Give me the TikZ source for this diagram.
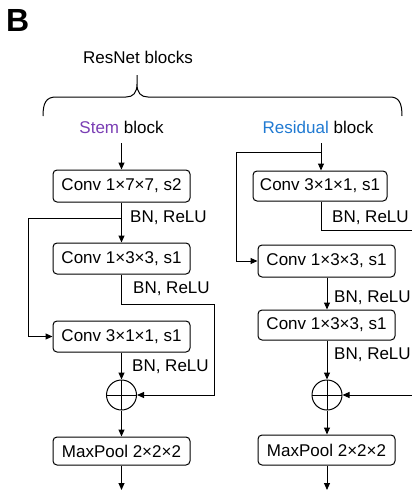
\documentclass[tikz,border=0pt]{standalone}
\usepackage{fontspec}
\setmainfont{Liberation Sans}
\usetikzlibrary{arrows.meta}
\definecolor{stemcol}{RGB}{122,62,180}
\definecolor{rescol}{RGB}{32,122,210}
\begin{document}
\begin{tikzpicture}[x=1pt,y=-1pt,
  every node/.style={font=\fontsize{17}{20}\selectfont, inner sep=0pt},
  conv/.style={draw, rounded corners=4pt, line width=1pt, minimum width=137pt, minimum height=31pt},
  plus/.style={draw, circle, line width=1pt, minimum size=30pt,
    path picture={\draw[line width=1pt] (path picture bounding box.north) -- (path picture bounding box.south)
                                         (path picture bounding box.west) -- (path picture bounding box.east);}},
  lbl/.style={anchor=west},
  flow/.style={line width=1pt, -{Triangle[length=7pt,width=6pt]}},
  wire/.style={line width=1pt}]
\useasboundingbox (0,0) rectangle (412,496);

% panel letter and title
\node[font=\fontsize{32}{36}\selectfont\bfseries, anchor=north west] (panel) at (6,9) {B};
\node (title) at (138,57) {ResNet blocks};
\draw[line width=1pt] (43,116) .. controls (43,103) and (46,97) .. (56,97) -- (126,97)
  .. controls (133,97) and (137,93) .. (137,84) -- (137,75) -- (137,84)
  .. controls (137,93) and (141,97) .. (148,97) -- (390,97)
  .. controls (399,97) and (402,103) .. (402,116);

% ---------- Stem block ----------
\node (stemlbl) at (121.5,127) {\textcolor{stemcol}{Stem} block};
\coordinate (sin) at (121.5,143);
\node[conv, minimum height=32pt] (s1) at (121.5,186) {Conv 1×7×7, s2};
\node[conv] (s2) at (121.5,258.5) {Conv 1×3×3, s1};
\node[conv] (s3) at (121.5,336.5) {Conv 3×1×1, s1};
\node[plus] (sp) at (121.5,395) {};
\node[conv, minimum height=28pt] (smp) at (121.5,451) {MaxPool 2×2×2};
\coordinate (sout) at (121.5,490);

\draw[flow] (sin) -- (s1.north);
\draw[flow] (s1.south) -- (s2.north);
\draw[flow] (121.5,218) -- (28,218) |- (s3.west);
\node[lbl] (sbn1) at (130,218) {BN, ReLU};
\draw[flow] (s2.south) -- (121.5,304) -| (214,395) -- (sp.east);
\node[lbl] (sbn2) at (133,289) {BN, ReLU};
\draw[flow] (s3.south) -- (sp.north);
\node[lbl] (sbn3) at (132,367) {BN, ReLU};
\draw[flow] (sp.south) -- (smp.north);
\draw[flow] (smp.south) -- (sout);

% ---------- Residual block ----------
\node (reslbl) at (318,127) {\textcolor{rescol}{Residual} block};
\coordinate (rin) at (321,143);
\node[conv, minimum width=134pt, minimum height=30pt] (r1) at (320,186) {Conv 3×1×1, s1};
\node[conv, minimum height=32pt] (r2) at (326.5,261) {Conv 1×3×3, s1};
\node[conv, minimum height=30pt] (r3) at (326.5,325) {Conv 1×3×3, s1};
\node[plus] (rp) at (327,395) {};
\node[conv, minimum height=30pt] (rmp) at (326.5,450) {MaxPool 2×2×2};
\coordinate (rout) at (327,490);
\coordinate (rright1) at (413,230);
\coordinate (rright2) at (413,395);

\draw[flow] (rin) -- (r1.north -| rin);
\draw[flow] (321,152) -- (236,152) |- (r2.west);
\draw[wire] (r1.south -| rin) |- (rright1);
\node[lbl] (rbn1) at (332,218) {BN, ReLU};
\draw[flow] (r2.south -| rp) -- (r3.north -| rp);
\node[lbl] (rbn2) at (334,298) {BN, ReLU};
\draw[flow] (r3.south -| rp) -- (rp.north);
\node[lbl] (rbn3) at (334,355) {BN, ReLU};
\draw[flow] (rright2) -- (rp.east);
\draw[flow] (rp.south) -- (rmp.north -| rp);
\draw[flow] (rmp.south -| rp) -- (rout);
\end{tikzpicture}
\end{document}
